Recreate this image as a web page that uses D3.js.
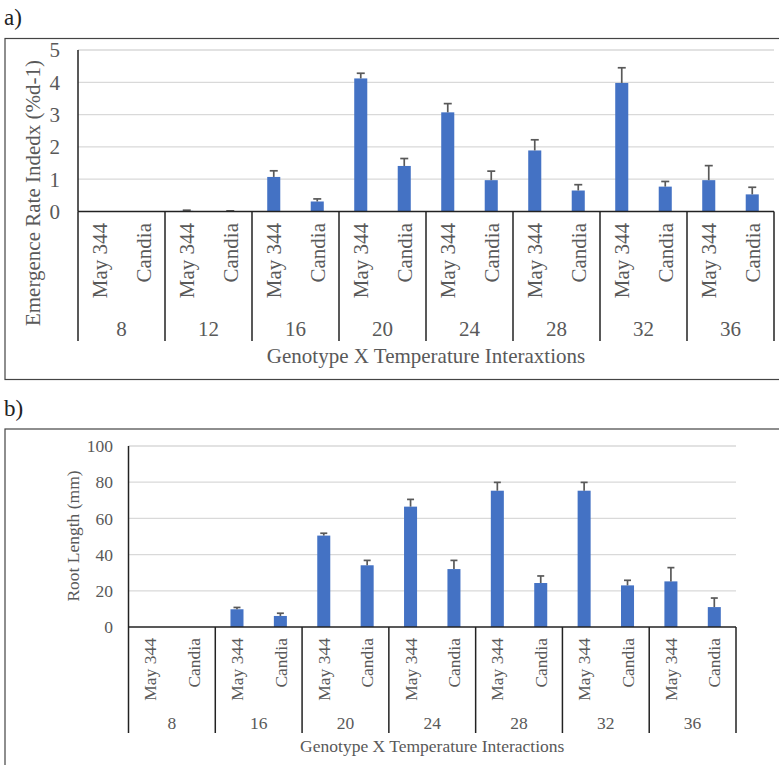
<!DOCTYPE html>
<html><head><meta charset="utf-8">
<script src="https://cdn.jsdelivr.net/npm/d3@7"></script>
<style>
body{margin:0;background:#fff;}
svg{display:block;}
text{font-family:"Liberation Serif","Times New Roman",serif;fill:#595959;}
</style></head>
<body>
<svg id="chart" width="779" height="765"></svg>
<script>
const genotypes = ["May 344", "Candia"];
// Panel a
const tempsA = ["8","12","16","20","24","28","32","36"];
const mayA    = [0, 0.02, 1.07, 4.12, 3.07, 1.89, 3.98, 0.97];
const mayErrA = [0, 0.02, 0.19, 0.16, 0.27, 0.33, 0.47, 0.45];
const canA    = [0, 0.01, 0.31, 1.41, 0.97, 0.65, 0.77, 0.53];
const canErrA = [0, 0.01, 0.08, 0.23, 0.28, 0.18, 0.16, 0.22];
const ticksA = [0,1,2,3,4,5];
// Panel b
const tempsB = ["8","16","20","24","28","32","36"];
const mayB    = [0, 9.8, 50.5, 66.5, 75.3, 75.3, 25.2];
const mayErrB = [0, 1.0, 1.3, 4.0, 4.6, 4.6, 7.6];
const canB    = [0, 6.1, 34.1, 32.0, 24.3, 23.0, 11.0];
const canErrB = [0, 1.5, 2.7, 4.8, 3.9, 2.8, 5.0];
const ticksB = [0,20,40,60,80,100];

const svg = d3.select("#chart");
const barColor = "#4472C4", errColor = "#595959";

function panel(cfg){
  const g = svg.append("g");
  // frame
  g.append("rect").attr("x", cfg.frame[0]).attr("y", cfg.frame[1])
    .attr("width", cfg.frame[2]).attr("height", cfg.frame[3])
    .attr("fill","none").attr("stroke","#444").attr("stroke-width",1.2);
  g.append("text").attr("x", 4).attr("y", cfg.labelY).style("font-size","23px")
    .style("fill","#222").text(cfg.label);

  const data = [];
  cfg.temps.forEach((t,i)=>{
    data.push({t, gen: genotypes[0], v: cfg.may[i], e: cfg.mayErr[i]});
    data.push({t, gen: genotypes[1], v: cfg.can[i], e: cfg.canErr[i]});
  });
  const x0 = d3.scaleBand().domain(cfg.temps).range([cfg.left, cfg.right]).padding(0);
  const x1 = d3.scaleBand().domain(genotypes).range([0, x0.bandwidth()])
    .paddingInner(0.70).paddingOuter(0.35);
  const y = d3.scaleLinear().domain([0, cfg.ymax]).range([cfg.bottom, cfg.top]);

  // grid
  g.selectAll(".grid").data(cfg.ticks.filter(d=>d>0)).join("line")
    .attr("x1", cfg.left).attr("x2", cfg.right)
    .attr("y1", d=>y(d)).attr("y2", d=>y(d))
    .attr("stroke","#d9d9d9").attr("stroke-width",1.3);
  // y tick labels
  g.selectAll(".yt").data(cfg.ticks).join("text")
    .attr("x", cfg.tickRight).attr("y", d=>y(d)).attr("dy","0.35em")
    .attr("text-anchor","end").style("font-size", cfg.fs+"px").text(d=>d);
  // bars
  const bx = d => x0(d.t) + x1(d.gen);
  g.selectAll(".bar").data(data).join("rect")
    .attr("x", bx).attr("width", x1.bandwidth())
    .attr("y", d=>y(d.v)).attr("height", d=>y(0)-y(d.v))
    .attr("fill", barColor);
  // error bars
  const eb = data.filter(d=>d.e>0);
  const cw = cfg.capW;
  g.selectAll(".ev").data(eb).join("line")
    .attr("x1", d=>bx(d)+x1.bandwidth()/2).attr("x2", d=>bx(d)+x1.bandwidth()/2)
    .attr("y1", d=>y(d.v)).attr("y2", d=>y(d.v+d.e))
    .attr("stroke", errColor).attr("stroke-width",1.7);
  g.selectAll(".ec").data(eb).join("line")
    .attr("x1", d=>bx(d)+x1.bandwidth()/2-cw/2).attr("x2", d=>bx(d)+x1.bandwidth()/2+cw/2)
    .attr("y1", d=>y(d.v+d.e)).attr("y2", d=>y(d.v+d.e))
    .attr("stroke", errColor).attr("stroke-width",1.7);
  // axes lines
  g.append("line").attr("x1",cfg.left).attr("x2",cfg.left)
    .attr("y1",y(cfg.ymax)).attr("y2",y(0)).attr("stroke","#222").attr("stroke-width",1.5);
  g.append("line").attr("x1",cfg.left).attr("x2",cfg.right)
    .attr("y1",y(0)).attr("y2",y(0)).attr("stroke","#222").attr("stroke-width",1.5);
  // group dividers
  const bounds = cfg.temps.map(t=>x0(t)).concat([cfg.right]);
  g.selectAll(".div").data(bounds).join("line")
    .attr("x1", d=>d).attr("x2", d=>d).attr("y1", y(0)).attr("y2", cfg.divBottom)
    .attr("stroke","#222").attr("stroke-width",1.5);
  // genotype labels
  g.selectAll(".gl").data(data).join("text")
    .attr("transform", d=>`translate(${bx(d)+x1.bandwidth()/2},${cfg.genTop}) rotate(-90)`)
    .attr("dy","0.35em").attr("text-anchor","end")
    .style("font-size", cfg.fs+"px").text(d=>d.gen);
  // category labels
  g.selectAll(".cl").data(cfg.temps).join("text")
    .attr("x", d=>x0(d)+x0.bandwidth()/2).attr("y", cfg.catY)
    .attr("text-anchor","middle").style("font-size", cfg.fs+"px").text(d=>d);
  // axis titles
  g.append("text").attr("x", (cfg.left+cfg.right)/2).attr("y", cfg.xTitleY)
    .attr("text-anchor","middle").style("font-size", cfg.fs+"px").text(cfg.xTitle);
  g.append("text")
    .attr("transform", `translate(${cfg.yTitleX},${cfg.yTitleY}) rotate(-90)`)
    .attr("dy","0.35em").attr("text-anchor","middle")
    .style("font-size", cfg.fs+"px").text(cfg.yTitle);
}

panel({
  label:"a)", labelY:25, frame:[5,38.5,790,341],
  temps:tempsA, may:mayA, mayErr:mayErrA, can:canA, canErr:canErrA, ticks:ticksA, ymax:5,
  left:78, right:774, top:50, bottom:211.5, tickRight:60, fs:21, capW:8,
  divBottom:341, genTop:223, catY:336, xTitleY:363, yTitleX:33, yTitleY:193,
  xTitle:"Genotype X Temperature Interaxtions", yTitle:"Emergence Rate Indedx (%d-1)"
});
panel({
  label:"b)", labelY:416, frame:[5,429,790,350],
  temps:tempsB, may:mayB, mayErr:mayErrB, can:canB, canErr:canErrB, ticks:ticksB, ymax:100,
  left:128.5, right:736, top:446, bottom:627, tickRight:113, fs:17.5, capW:7,
  divBottom:733, genTop:638, catY:729, xTitleY:752, yTitleX:73, yTitleY:536,
  xTitle:"Genotype X Temperature Interactions", yTitle:"Root Length (mm)"
});
</script>
</body></html>
